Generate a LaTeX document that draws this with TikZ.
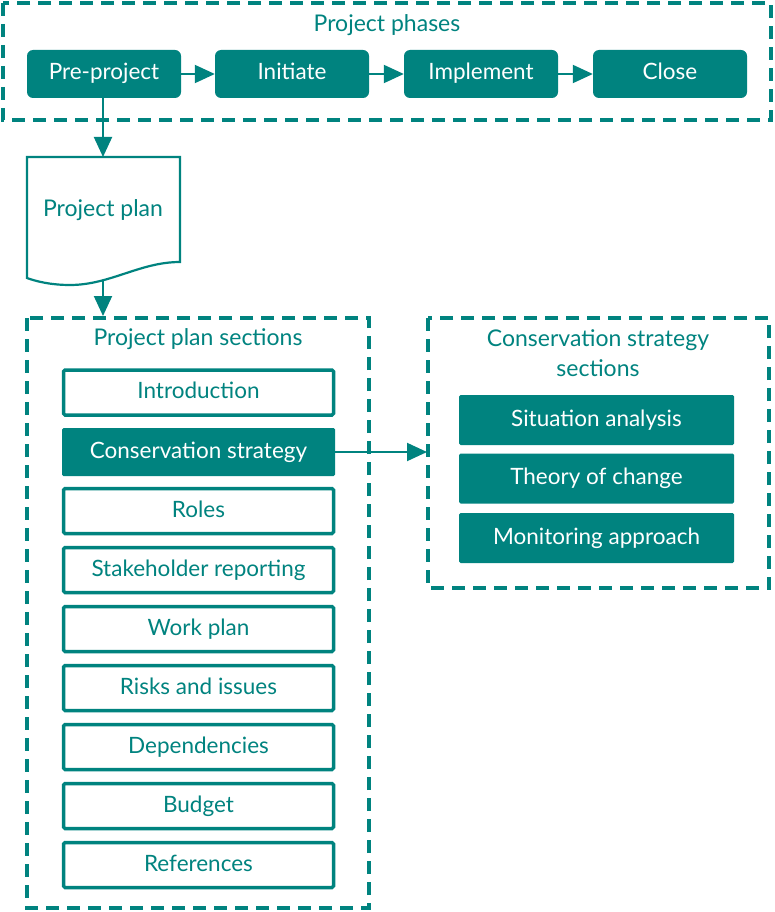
\documentclass[tikz,border=0pt]{standalone}
\usepackage{fontspec}
\setmainfont{Lato}
\usetikzlibrary{arrows.meta}
\definecolor{teal1}{HTML}{00837F}
\newcommand{\bfs}{\fontsize{22.5}{27}\selectfont}
\tikzset{
  dbox/.style={draw=teal1, line width=4pt, dash pattern=on 13pt off 8pt},
  phase/.style={fill=teal1, rounded corners=6pt, minimum width=154pt, minimum height=48pt, text=white, font=\bfs, inner sep=0pt, text height=16pt, text depth=4pt},
  sec/.style={draw=teal1, line width=3.5pt, fill=white, minimum width=270pt, minimum height=45pt, text=teal1, font=\bfs, rounded corners=1.5pt, inner sep=0pt, text height=16pt, text depth=4pt},
  secfill/.style={fill=teal1, minimum width=273pt, minimum height=48pt, text=white, font=\bfs, rounded corners=1.5pt, inner sep=0pt, text height=16pt, text depth=4pt},
  ttl/.style={text=teal1, font=\fontsize{23}{30}\selectfont, align=center},
  conn/.style={draw=teal1, line width=2pt, -{Triangle[length=20pt,width=18pt]}}
}
\begin{document}
\begin{tikzpicture}[x=1pt,y=-1pt]
\useasboundingbox (0,0) rectangle (774,912);
% top box
\draw[dbox] (3,3) rectangle (771,120);
\node[ttl] (tp) at (387,25) {Project phases};
\node[phase] (pre) at (104,74) {Pre-project};
\node[phase] (ini) at (292,74) {Initiate};
\node[phase] (imp) at (481,74) {Implement};
\node[phase] (clo) at (670,74) {Close};
\draw[conn] (pre) -- (ini);
\draw[conn] (ini) -- (imp);
\draw[conn] (imp) -- (clo);
% document
\draw[draw=teal1, line width=2.2pt, fill=white] (27,157) -- (180,157) -- (180,262)
  .. controls (140,262) and (110,285) .. (70,285)
  .. controls (50,285) and (35,281) .. (27,278) -- cycle;
\node[ttl] (doc) at (103,210) {Project plan};
\coordinate (doctop) at (103,157);
\coordinate (docbot) at (103,280);
\coordinate (pptop) at (103,316);
\draw[conn] (pre.south -| doctop) -- (doctop);
\draw[conn] (docbot) -- (pptop);
% project plan sections
\draw[dbox] (27,318) rectangle (369,908);
\node[ttl] (ppt) at (198,339) {Project plan sections};
\node[sec] (s1) at (198.5,392.5) {Introduction};
\node[secfill] (s2) at (198.5,452) {Conservation strategy};
\node[sec] (s3) at (198.5,511) {Roles};
\node[sec] (s4) at (198.5,570) {Stakeholder reporting};
\node[sec] (s5) at (198.5,629) {Work plan};
\node[sec] (s6) at (198.5,688) {Risks and issues};
\node[sec] (s7) at (198.5,747) {Dependencies};
\node[sec] (s8) at (198.5,806) {Budget};
\node[sec] (s9) at (198.5,865) {References};
% conservation strategy sections
\draw[dbox] (428,318) rectangle (769,588);
\coordinate (csl) at (427,452);
\draw[conn] (s2.east) -- (csl);
\node[ttl] (cst) at (598,353) {Conservation strategy\\sections};
\node[secfill, minimum width=275pt, minimum height=50pt] (c1) at (596.5,420) {Situation analysis};
\node[secfill, minimum width=275pt, minimum height=50pt] (c2) at (596.5,478.5) {Theory of change};
\node[secfill, minimum width=275pt, minimum height=50pt] (c3) at (596.5,538) {Monitoring approach};
\end{tikzpicture}
\end{document}
